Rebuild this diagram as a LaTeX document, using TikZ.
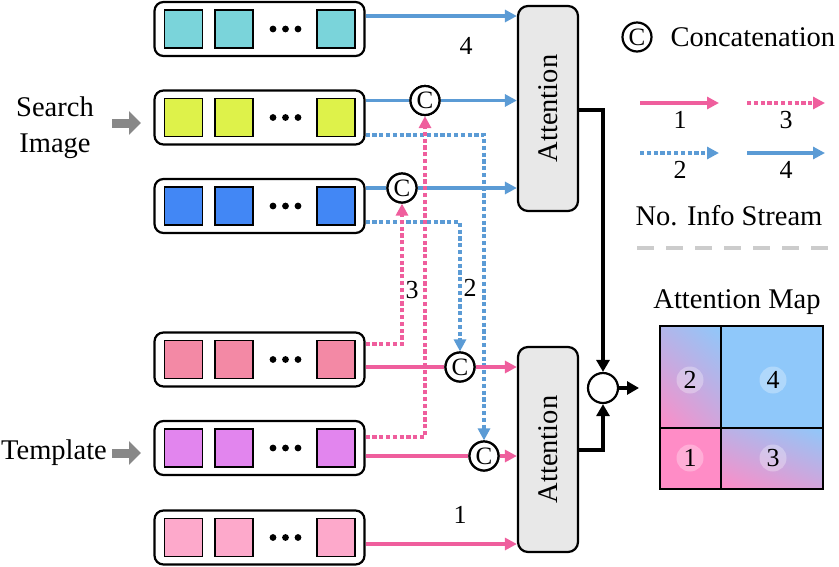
\documentclass[tikz,border=0pt]{standalone}
\usepackage{fontspec}
\setmainfont{Liberation Serif}
\usetikzlibrary{arrows.meta,shadings,calc}
\definecolor{cA}{HTML}{7AD4DA}
\definecolor{cB}{HTML}{DEF24A}
\definecolor{cC}{HTML}{4287F5}
\definecolor{cD}{HTML}{F389A5}
\definecolor{cE}{HTML}{E285EE}
\definecolor{cF}{HTML}{FDA9CB}
\definecolor{lpink}{HTML}{EF5E9D}
\definecolor{lblue}{HTML}{5B9BD5}
\definecolor{mpink}{HTML}{FF8CC6}
\definecolor{mblue}{HTML}{8FC8FA}
\definecolor{mmid}{HTML}{C7AAE0}
\definecolor{attfill}{HTML}{E8E8E8}
\definecolor{garrow}{HTML}{888888}
\tikzset{
  big/.style={font=\fontsize{28.5}{36}\selectfont},
  num/.style={font=\fontsize{26}{28}\selectfont},
  rowbox/.style={draw, line width=2.2pt, rounded corners=9pt, minimum width=210pt, minimum height=54pt, inner sep=0pt},
  tok/.style={draw, line width=1.8pt, minimum width=38pt, minimum height=38pt, inner sep=0pt},
  attbox/.style={draw, line width=2.2pt, fill=attfill, rounded corners=10pt, minimum width=60pt, minimum height=205pt, inner sep=0pt},
  cat/.style={circle, draw, line width=2.2pt, fill=white, minimum size=29pt, inner sep=0pt, font=\fontsize{25}{25}\selectfont},
  tip/.style={-{Triangle[length=12pt,width=12pt]}},
  psolid/.style={draw=lpink, line width=3.5pt, tip},
  bsolid/.style={draw=lblue, line width=3.5pt, tip},
  pdot/.style={draw=lpink, line width=3.8pt, dash pattern=on 4.2pt off 2.6pt, tip},
  bdot/.style={draw=lblue, line width=3.8pt, dash pattern=on 4.2pt off 2.6pt, tip},
  blk/.style={draw=black, line width=3.3pt, -{Triangle[length=12pt,width=13pt]}},
  plain/.style={line width=3.5pt},
  mapnum/.style={circle, fill=white, fill opacity=0.3, text opacity=1, minimum size=27pt, inner sep=0pt, font=\fontsize{26}{26}\selectfont},
  garr/.style={draw=garrow, line width=9pt, -{Triangle[length=12pt,width=23pt]}}
}
\begin{document}
\begin{tikzpicture}[x=1pt,y=-1pt]
\useasboundingbox (0,0) rectangle (839,566);

% token rows
\foreach \n/\y/\c in {1/29/cA, 2/117.5/cB, 3/206/cC, 4/359.5/cD, 5/448/cE, 6/537.5/cF} {
  \node[rowbox] (row\n) at (259.5,\y) {};
  \node[tok, fill=\c] (row\n a) at (183.5,\y) {};
  \node[tok, fill=\c] (row\n b) at (234,\y) {};
  \node[tok, fill=\c] (row\n c) at (336,\y) {};
  \foreach \dx in {273,285.5,298} \fill (\dx,\y) circle[radius=3.4pt];
}

% input labels
\node[big, align=center] (search) at (55,128) {Search\\Image};
\node[big] (template) at (54,453) {Template};
\coordinate (sa0) at (112,123);
\coordinate (sa1) at (141,123);
\coordinate (ta0) at (112,453);
\coordinate (ta1) at (141,453);
\draw[garr] (sa0) -- (sa1);
\draw[garr] (ta0) -- (ta1);

% attention blocks
\node[attbox] (att1) at (548,108.5) {};
\node[big, rotate=90] (att1t) at (att1) {Attention};
\node[attbox] (att2) at (548,449.5) {};
\node[big, rotate=90] (att2t) at (att2) {Attention};

% concatenation nodes
\node[cat] (c1) at (425,100.5) {C};
\node[cat] (c2) at (402,188) {C};
\node[cat] (c3) at (460,367) {C};
\node[cat] (c4) at (484,456) {C};

% corner coordinates for dotted routes
\coordinate (b2) at (484,135);
\coordinate (b3) at (460,222);
\coordinate (p4) at (402,344);
\coordinate (p5) at (425,437);

% blue streams
\draw[bsolid] ([yshift=13pt]row1.east) -- ([yshift=13pt]row1.east -| att1.west);
\draw[plain, lblue] ([yshift=17pt]row2.east) -- (c1);
\draw[bsolid] (c1) -- (c1 -| att1.west);
\draw[plain, lblue] ([yshift=18pt]row3.east) -- (c2);
\draw[bsolid] (c2) -- (c2 -| att1.west);
\draw[bdot] (row2.east |- b2) -- (b2) -- (c4.north);
\draw[bdot] (row3.east |- b3) -- (b3) -- (c3.north);

% pink streams
\draw[plain, lpink] (row4.east |- c3) -- (c3);
\draw[psolid] (c3) -- (c3 -| att2.west);
\draw[plain, lpink] (row5.east |- c4) -- (c4);
\draw[psolid] (c4) -- (c4 -| att2.west);
\draw[psolid] ([yshift=-6.5pt]row6.east) -- ([yshift=-6.5pt]row6.east -| att2.west);
\draw[pdot] (row4.east |- p4) -- (p4) -- (c2.south);
\draw[pdot] (row5.east |- p5) -- (p5) -- (c1.south);

% redraw concat circles on top
\node[cat] at (c1) {C};
\node[cat] at (c2) {C};
\node[cat] at (c3) {C};
\node[cat] at (c4) {C};

% stream labels
\node[num] (l4) at (466,46) {4};
\node[num] (l3) at (412,290) {3};
\node[num] (l2) at (470,288) {2};
\node[num] (l1) at (460,515) {1};

% merge
\node[circle, draw, line width=2.2pt, fill=white, minimum size=30pt, inner sep=0pt] (sum) at (603,388) {};
\coordinate (o1) at (att1.east |- 0,110);
\coordinate (o2) at (att2.east |- 0,450);
\draw[blk] (o1) -| (sum.north);
\draw[blk] (o2) -| (sum.south);
\coordinate (out) at (639,388);
\draw[blk] (sum.east) -- (out);

% attention map
\node[big] (maptitle) at (737,302) {Attention Map};
\shade[lower left=mpink, upper right=mblue, upper left=mmid!60!mblue, lower right=mmid!80!mpink] (660,326) rectangle (721,428);
\fill[mblue] (721,326) rectangle (823,428);
\fill[mpink] (660,428) rectangle (721,489);
\shade[lower left=mpink, upper right=mblue, upper left=mmid!80!mblue, lower right=mmid!80!mpink] (721,428) rectangle (823,489);
\draw[line width=2.2pt] (660,326) rectangle (823,489);
\draw[line width=2.2pt] (721,326) -- (721,489);
\draw[line width=2.2pt] (660,428) -- (823,428);
\node[mapnum] (m2) at (690,380) {2};
\node[mapnum] (m4) at (773,380) {4};
\node[mapnum] (m1) at (690,458) {1};
\node[mapnum] (m3) at (773,458) {3};

% legend
\node[cat] (legc) at (637,37) {C};
\node[big, anchor=west] (legt) at (667,37) {Concatenation};
\coordinate (g1a) at (640,103); \coordinate (g1b) at (719,103);
\coordinate (g3a) at (747,103); \coordinate (g3b) at (825,103);
\coordinate (g2a) at (640,153); \coordinate (g2b) at (719,153);
\coordinate (g4a) at (747,153); \coordinate (g4b) at (825,153);
\draw[psolid] (g1a) -- (g1b);
\draw[pdot] (g3a) -- (g3b);
\draw[bdot] (g2a) -- (g2b);
\draw[bsolid] (g4a) -- (g4b);
\node[num] (n1) at (680,120) {1};
\node[num] (n3) at (786,120) {3};
\node[num] (n2) at (680,170) {2};
\node[num] (n4) at (786,170) {4};
\node[big] (legs) at (729,216) {No. Info Stream};
\coordinate (d1) at (637,248); \coordinate (d2) at (830,248);
\draw[draw=black!20, line width=4pt, dash pattern=on 17pt off 12pt] (d1) -- (d2);
\end{tikzpicture}
\end{document}
